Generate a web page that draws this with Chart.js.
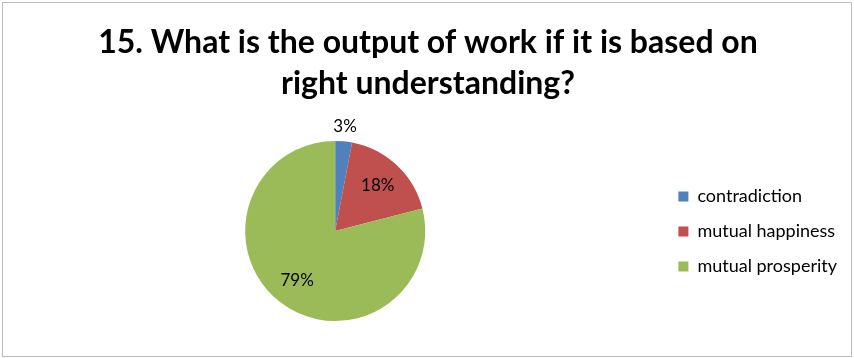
<!DOCTYPE html>
<html><head><meta charset="utf-8">
<script src="https://cdn.jsdelivr.net/npm/chart.js@4"></script>
<style>
html,body{margin:0;padding:0;background:#fff;}
#wrap{position:absolute;left:0;top:0;width:854px;height:358px;}
</style></head>
<body><div id="wrap"><canvas id="c" width="854" height="358"></canvas></div>
<script>
const categories = ['contradiction', 'mutual happiness', 'mutual prosperity'];
const percentValues = [3, 18, 79];
const sliceColors = ['#4F81BD', '#C0504D', '#9BBB59'];
const titleLines = ['15. What is the output of work if it is based on', 'right understanding?'];
const FONT = 'Lato, "Open Sans", sans-serif';

const frame = {
  id: 'frame',
  beforeDraw(chart) {
    const ctx = chart.ctx;
    ctx.save();
    ctx.fillStyle = '#fff';
    ctx.fillRect(0, 0, chart.width, chart.height);
    ctx.strokeStyle = '#bdbdbd';
    ctx.lineWidth = 1;
    ctx.strokeRect(2.5, 2.5, chart.width - 5, chart.height - 4);
    ctx.restore();
  }
};

const sliceLabels = {
  id: 'sliceLabels',
  afterDatasetsDraw(chart) {
    const ctx = chart.ctx;
    const meta = chart.getDatasetMeta(0);
    const data = chart.data.datasets[0].data;
    ctx.save();
    ctx.font = '17px ' + FONT;
    ctx.fillStyle = '#000';
    ctx.textAlign = 'center';
    ctx.textBaseline = 'middle';
    meta.data.forEach((arc, i) => {
      const p = arc.getProps(['x', 'y', 'startAngle', 'endAngle', 'outerRadius'], true);
      const mid = (p.startAngle + p.endAngle) / 2;
      const small = data[i] < 5;
      const r = small ? p.outerRadius + 15 : p.outerRadius * 0.69;
      ctx.fillText(data[i] + '%', p.x + Math.cos(mid) * r, p.y + Math.sin(mid) * r);
    });
    ctx.restore();
  }
};

new Chart(document.getElementById('c'), {
  type: 'pie',
  data: {
    labels: categories,
    datasets: [{ data: percentValues, backgroundColor: sliceColors, borderWidth: 0 }]
  },
  options: {
    responsive: false,
    animation: false,
    events: [],
    layout: { padding: { left: 9, right: 7, top: 0, bottom: 37 } },
    plugins: {
      title: {
        display: true,
        text: titleLines,
        color: '#000',
        font: { family: FONT, size: 32, weight: 'bold', lineHeight: 1.28 },
        padding: { top: 22, bottom: 37 }
      },
      legend: {
        position: 'right',
        align: 'center',
        title: { display: true, text: '', font: { size: 12, lineHeight: 1.2 }, padding: { top: 127.6, bottom: 0 } },
        labels: {
          boxWidth: 10, boxHeight: 10, padding: 17,
          color: '#000',
          font: { family: FONT, size: 18 }
        }
      },
      tooltip: { enabled: false }
    }
  },
  plugins: [frame, sliceLabels]
});
</script></body></html>
